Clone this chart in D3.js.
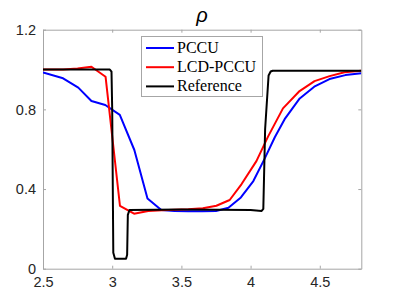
<!DOCTYPE html>
<html>
<head>
<meta charset="utf-8">
<script src="https://cdn.jsdelivr.net/npm/d3@7"></script>
<style>
  body { margin: 0; background: #fff; }
  svg { display: block; }
</style>
</head>
<body>
<svg width="393" height="299"></svg>
<script>
// PCCU
var pccuX = [2.5, 2.645, 2.755, 2.85, 2.95, 3.055, 3.16, 3.255, 3.355, 3.45, 3.55, 3.65, 3.75, 3.84, 3.93, 4.02, 4.1, 4.175, 4.25, 4.355, 4.46, 4.57, 4.685, 4.8];
var pccuY = [0.985, 0.956, 0.909, 0.842, 0.822, 0.772, 0.596, 0.353, 0.295, 0.29, 0.288, 0.288, 0.29, 0.306, 0.358, 0.44, 0.55, 0.66, 0.755, 0.855, 0.914, 0.952, 0.972, 0.981];

// LCD-PCCU
var lcdX = [2.5, 2.645, 2.75, 2.85, 2.952, 3.056, 3.158, 3.26, 3.36, 3.45, 3.55, 3.655, 3.753, 3.849, 3.935, 4.042, 4.126, 4.234, 4.354, 4.462, 4.571, 4.679, 4.8];
var lcdY = [1.0, 1.0, 1.005, 1.014, 0.964, 0.316, 0.276, 0.29, 0.294, 0.296, 0.298, 0.303, 0.316, 0.345, 0.425, 0.54, 0.663, 0.805, 0.892, 0.942, 0.967, 0.986, 0.994];

// Reference
var refX = [2.5, 2.983, 2.995, 3.0, 3.008, 3.02, 3.1, 3.108, 3.113, 3.125, 3.5, 4.0, 4.08, 4.092, 4.105, 4.13, 4.145, 4.16, 4.8];
var refY = [1.0, 1.0, 0.99, 0.8, 0.08, 0.05, 0.05, 0.07, 0.27, 0.295, 0.297, 0.295, 0.29, 0.3, 0.7, 0.97, 0.99, 0.994, 0.994];

var xTicks = [2.5, 3, 3.5, 4, 4.5];
var yTicks = [0, 0.4, 0.8, 1.2];

var seriesNames = ["PCCU", "LCD-PCCU", "Reference"];
var seriesColors = ["#0000ff", "#ff0000", "#000000"];

var svg = d3.select("svg");

var margin = {left: 43, right: 361.3, top: 29.7, bottom: 268.7};

var x = d3.scaleLinear().domain([2.5, 4.8]).range([margin.left, margin.right]);
var y = d3.scaleLinear().domain([0, 1.2]).range([margin.bottom, margin.top]);

var axisColor = "#a6a6a6";
var textColor = "#262626";

svg.append("defs").append("clipPath")
    .attr("id", "plotclip")
    .append("rect")
    .attr("x", margin.left)
    .attr("y", margin.top)
    .attr("width", margin.right - margin.left)
    .attr("height", margin.bottom - margin.top);

// axes, MATLAB style box with inward ticks
var bottomAxis = d3.axisBottom(x).tickValues(xTicks).tickSizeInner(-3).tickSizeOuter(0).tickFormat(d3.format("~g"));
var topAxis = d3.axisTop(x).tickValues(xTicks).tickSizeInner(-3).tickSizeOuter(0).tickFormat("");
var leftAxis = d3.axisLeft(y).tickValues(yTicks).tickSizeInner(-3).tickSizeOuter(0).tickFormat(d3.format("~g"));
var rightAxis = d3.axisRight(y).tickValues(yTicks).tickSizeInner(-3).tickSizeOuter(0).tickFormat("");

function styleAxis(g) {
    g.select(".domain").attr("stroke", axisColor).attr("stroke-width", 1);
    g.selectAll(".tick line").attr("stroke", axisColor);
    g.selectAll(".tick text")
        .attr("fill", textColor)
        .style("font-family", "'Liberation Sans', Arial, sans-serif")
        .style("font-size", "14.5px");
}

svg.append("g")
    .attr("transform", "translate(0," + margin.bottom + ")")
    .call(bottomAxis)
    .call(styleAxis)
    .selectAll(".tick text")
    .attr("y", 8)
    .attr("dy", "0.71em");

svg.append("g")
    .attr("transform", "translate(0," + margin.top + ")")
    .call(topAxis)
    .call(styleAxis);

svg.append("g")
    .attr("transform", "translate(" + margin.left + ",0)")
    .call(leftAxis)
    .call(styleAxis)
    .selectAll(".tick text")
    .attr("x", -7);

svg.append("g")
    .attr("transform", "translate(" + margin.right + ",0)")
    .call(rightAxis)
    .call(styleAxis);

// lines
var line = d3.line()
    .x(function (d) { return x(d[0]); })
    .y(function (d) { return y(d[1]); });

var allX = [pccuX, lcdX, refX];
var allY = [pccuY, lcdY, refY];

var plot = svg.append("g").attr("clip-path", "url(#plotclip)");

for (var i = 0; i < 3; i++) {
    var pts = d3.zip(allX[i], allY[i]);
    plot.append("path")
        .datum(pts)
        .attr("fill", "none")
        .attr("stroke", seriesColors[i])
        .attr("stroke-width", 2)
        .attr("stroke-linejoin", "round")
        .attr("d", line);
}

// title
svg.append("text")
    .attr("x", 202)
    .attr("y", 22)
    .attr("text-anchor", "middle")
    .attr("fill", "#000")
    .style("font-family", "'Liberation Sans', Arial, sans-serif")
    .style("font-style", "italic")
    .style("font-size", "20px")
    .text("ρ");

// legend
var legend = svg.append("g");

legend.append("rect")
    .attr("x", 141.5)
    .attr("y", 36.5)
    .attr("width", 121)
    .attr("height", 60)
    .attr("fill", "#fff")
    .attr("stroke", axisColor)
    .attr("stroke-width", 1);

seriesNames.forEach(function (name, k) {
    var ly = 48 + k * 19.2;
    legend.append("line")
        .attr("x1", 146)
        .attr("x2", 174)
        .attr("y1", ly)
        .attr("y2", ly)
        .attr("stroke", seriesColors[k])
        .attr("stroke-width", 2);
    legend.append("text")
        .attr("x", 177)
        .attr("y", ly + 5)
        .attr("fill", "#000")
        .style("font-family", "'Liberation Serif', 'Times New Roman', serif")
        .style("font-size", "16px")
        .text(name);
});
</script>
</body>
</html>
